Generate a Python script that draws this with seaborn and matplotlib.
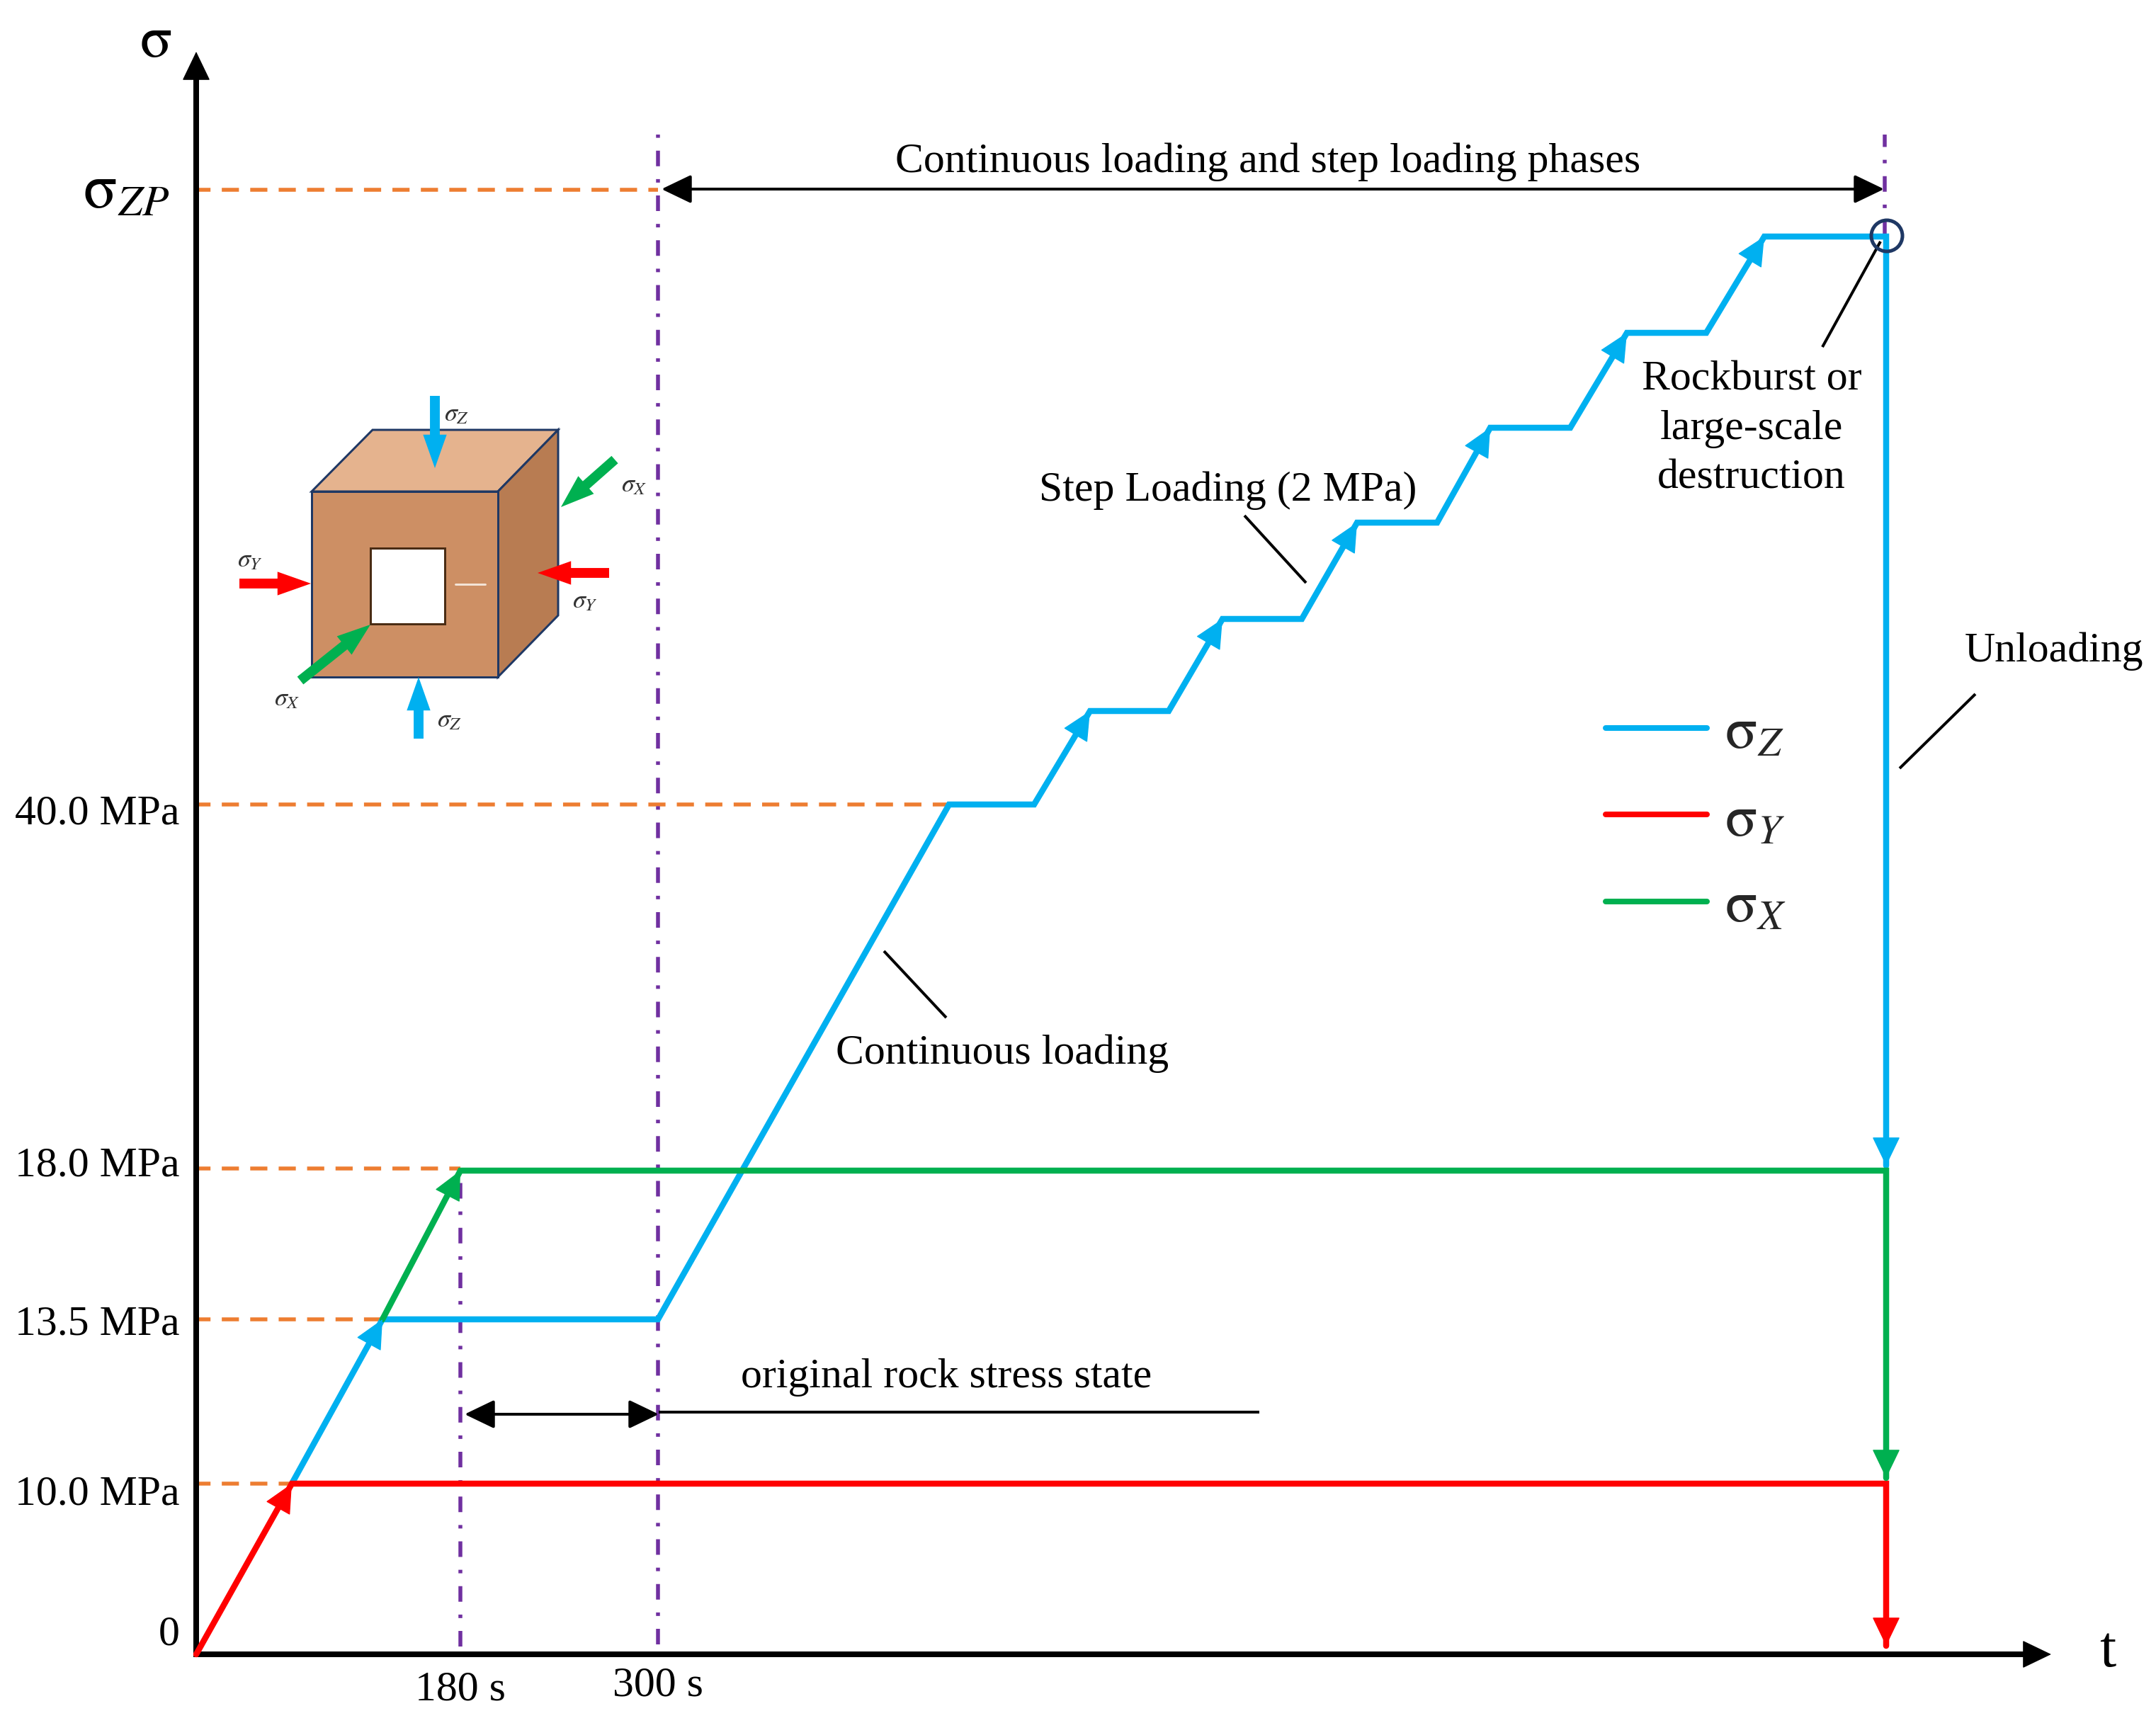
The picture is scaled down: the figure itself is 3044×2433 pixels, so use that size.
import matplotlib
matplotlib.use("Agg")
import matplotlib.pyplot as plt
import matplotlib.transforms as mtrans
from matplotlib.patches import Polygon, Ellipse, FancyArrowPatch
import pandas as pd
import seaborn as sns

# The chart is a schematic: neither axis is to scale, so values are schematic positions
sigma_z_t = [135, 263, 652, 1063, 1183, 1262, 1373, 1449, 1561, 1639, 1752, 1827, 1940, 2020, 2132, 2214, 2386, 2386]
sigma_z_s = [241, 473, 473, 1200, 1200, 1332, 1332, 1462, 1462, 1598, 1598, 1732, 1732, 1866, 1866, 2002, 2002, 690]
sigma_y_t = [0, 135, 2386, 2386]
sigma_y_s = [0, 241, 241, 12]
sigma_x_t = [263, 373, 2386, 2386]
sigma_x_s = [473, 683, 683, 249]
series_labels = [r"$\mathrm{\sigma}_{Z}$", r"$\mathrm{\sigma}_{Y}$", r"$\mathrm{\sigma}_{X}$"]
series_colors = ["#00B0F0", "#FF0000", "#00B050"]
y_ticks = [0, 241, 473, 683, 1200, 2068]
y_tick_labels = ["0", "10.0 MPa", "13.5 MPa", "18.0 MPa", "40.0 MPa", r"$\mathrm{\sigma}_{ZP}$"]
y_label_shift = [34, -9, -1, 13, -7, 6]
x_ticks = [373, 652]
x_tick_labels = ["180 s", "300 s"]
x_label_shift = [0, 6]

W, H = 3044, 2433
OX, OY = 277, 2336
ORANGE, PURPLE, NAVY = "#ED7D31", "#7030A0", "#1F3864"
PT = 0.72
FS = 43


def P(x, y):
    """Reference pixel -> schematic position."""
    return (x - OX, OY - y)


sns.set_theme(style="white")
plt.rcParams["font.family"] = ["Liberation Serif", "DejaVu Serif"]
plt.rcParams["mathtext.fontset"] = "stix"

fig = plt.figure(figsize=(W / 100, H / 100), dpi=100, facecolor="white")
ax = fig.add_axes([0, 0, 1, 1])
ax.set_xlim(-OX, W - OX)
ax.set_ylim(-(H - OY), OY)
ax.patch.set_alpha(0)

df = pd.concat([
    pd.DataFrame({"t": sigma_z_t, "s": sigma_z_s, "series": series_labels[0]}),
    pd.DataFrame({"t": sigma_y_t, "s": sigma_y_s, "series": series_labels[1]}),
    pd.DataFrame({"t": sigma_x_t, "s": sigma_x_s, "series": series_labels[2]}),
], ignore_index=True)

# guides under the curves
dash = dict(color=ORANGE, lw=5.5 * PT, dashes=(4.4, 2.9), dash_capstyle="butt", zorder=1)
for yv, xv in zip([241, 473, 686, 1200, 2068], [135, 263, 373, 1063, 652]):
    ax.plot([-4, xv], [yv, yv], **dash)
dd = dict(color=PURPLE, lw=5.5 * PT, dashes=(4.0, 3.3, 0.9, 3.3), dash_capstyle="butt", zorder=1)
ax.plot([373, 373], [11, 683], **dd)
ax.plot([652, 652], [14, 2146], **dd)
ax.plot([2384, 2384], [2002, 2146], **dd)

sns.lineplot(data=df, x="t", y="s", hue="series", hue_order=series_labels, palette=series_colors,
             sort=False, estimator=None, errorbar=None, lw=8.5 * PT, ax=ax, zorder=3,
             solid_joinstyle="miter", legend=True)


def head(p0, p1, color, hl=27, hw=13, z=4):
    ax.annotate("", xy=p1, xytext=p0, zorder=z,
                arrowprops=dict(arrowstyle=f"-|>,head_length={hl},head_width={hw}", mutation_scale=1,
                                color=color, lw=1, shrinkA=0, shrinkB=0))


# arrow heads along the curves
for i in (1, 5, 7, 9, 11, 13, 15):
    head((sigma_z_t[i] - (sigma_z_t[i] - sigma_z_t[i - 1]) * .6, sigma_z_s[i] - (sigma_z_s[i] - sigma_z_s[i - 1]) * .6),
         (sigma_z_t[i], sigma_z_s[i]), series_colors[0])
head((60, 107), (sigma_y_t[1], sigma_y_s[1]), series_colors[1])
head((320, 580), (sigma_x_t[1], sigma_x_s[1]), series_colors[2])
head((2386, 800), (2386, 690), series_colors[0])
head((2386, 400), (2386, 249), series_colors[2])
head((2386, 120), (2386, 12), series_colors[1])

# axes
for s in ("top", "right"):
    ax.spines[s].set_visible(False)
for s in ("left", "bottom"):
    ax.spines[s].set_position(("data", 0))
    ax.spines[s].set_linewidth(8 * PT)
    ax.spines[s].set_color("black")
    ax.spines[s].set_capstyle("projecting")
ax.spines["left"].set_bounds(0, 2230)
ax.spines["bottom"].set_bounds(0, 2590)
head((0, 2200), (0, 2263), "black", hl=27, hw=13, z=5)
head((2550, 0), (2619, 0), "black", hl=27, hw=13, z=5)

ax.set_xlabel("")
ax.set_ylabel("")
ax.set_yticks(y_ticks, y_tick_labels, fontsize=FS, color="black")
ax.set_xticks(x_ticks, x_tick_labels, fontsize=FS, color="black")
ax.tick_params(axis="both", length=0, pad=17)
labs = ax.get_yticklabels()
for i, (lab, sh) in enumerate(zip(labs, y_label_shift)):
    dx = -14 if i == len(labs) - 1 else 0
    lab.set_transform(lab.get_transform() + mtrans.ScaledTranslation(dx * PT / 72, sh * PT / 72, fig.dpi_scale_trans))
for lab, sh in zip(ax.get_xticklabels(), x_label_shift):
    lab.set_transform(lab.get_transform() + mtrans.ScaledTranslation(0, sh * PT / 72, fig.dpi_scale_trans))
labs[-1].set_fontsize(63)
ax.text(*P(220, 60), r"$\mathrm{\sigma}$", fontsize=60, ha="center", va="center", color="black")
ax.text(*P(2976, 2333), "t", fontsize=60, ha="center", va="center", color="black")

# legend
leg = ax.legend(loc="upper left", bbox_to_anchor=P(2267, 999), bbox_transform=ax.transData, frameon=False,
                fontsize=60, handlelength=1.71, handletextpad=0.31, labelspacing=0.55, borderpad=0, borderaxespad=0)
for line in leg.get_lines():
    line.set_linewidth(8 * PT)

# black double arrows and leaders
def dbl(a, b):
    ax.annotate("", xy=b, xytext=a, zorder=5,
                arrowprops=dict(arrowstyle="<|-|>,head_length=26,head_width=12.5", mutation_scale=1,
                                color="black", lw=4 * PT, shrinkA=0, shrinkB=0))


dbl((657, 2069), (2383, 2069))
dbl((379, 339), (653, 339))
for a, b in [((653, 342), (1501, 342)), ((1480, 1608), (1567, 1513)), ((971, 993), (1059, 899)),
             ((2378, 1995), (2296, 1846)), ((2512, 1356), (2405, 1251))]:
    ax.plot([a[0], b[0]], [a[1], b[1]], color="black", lw=4 * PT, solid_capstyle="butt", zorder=5)
ax.add_patch(Ellipse(P(2664, 333), 44, 44, fill=False, ec=NAVY, lw=5 * PT, zorder=6))

# text
txt = dict(fontsize=FS, ha="center", va="center", color="black", zorder=7)
ax.text(*P(1790, 229), "Continuous loading and step loading phases", **txt)
ax.text(*P(1734, 693), "Step Loading (2 MPa)", **txt)
ax.text(*P(2473, 606), "Rockburst or\nlarge-scale\ndestruction", linespacing=1.37, **txt)
ax.text(*P(2900, 920), "Unloading", **txt)
ax.text(*P(1415, 1488), "Continuous loading", **txt)
ax.text(*P(1336, 1945), "original rock stress state", **txt)

# specimen sketch
edge = dict(ec=NAVY, lw=3 * PT, joinstyle="miter", zorder=2)
ax.add_patch(Polygon([P(440, 694), P(526, 607), P(788, 607), P(703, 694)], fc="#E5B38E", **edge))
ax.add_patch(Polygon([P(703, 694), P(788, 607), P(788, 869), P(703, 956)], fc="#B87C52", **edge))
ax.add_patch(Polygon([P(440, 694), P(703, 694), P(703, 956), P(440, 956)], fc="#CD8F64", **edge))
ax.add_patch(Polygon([P(523, 774), P(628, 774), P(628, 881), P(523, 881)], fc="white", ec="#4A2C14", lw=3 * PT, zorder=2))
ax.plot(*zip(P(643, 825), P(685, 825)), color="#F3E3D6", lw=3 * PT, zorder=2)


def block(a, b, color):
    ax.add_patch(FancyArrowPatch(P(*a), P(*b), arrowstyle="simple,head_length=34,head_width=24,tail_width=10",
                                 mutation_scale=1, color=color, lw=0, shrinkA=0, shrinkB=0, zorder=3))


block((614, 559), (614, 661), series_colors[0])
block((591, 1043), (591, 956), series_colors[0])
block((868, 649), (792, 716), series_colors[2])
block((424, 961), (523, 882), series_colors[2])
block((338, 824), (439, 824), series_colors[1])
block((860, 809), (759, 809), series_colors[1])
small = dict(fontsize=26, ha="center", va="center", color="#333333", zorder=4)
for xy, s in [((645, 586), "Z"), ((895, 686), "X"), ((353, 792), "Y"), ((826, 850), "Y"), ((405, 988), "X"), ((635, 1018), "Z")]:
    ax.text(*P(*xy), rf"$\sigma_{{{s}}}$", **small)

fig.savefig("out.png", dpi=100, facecolor="white")
